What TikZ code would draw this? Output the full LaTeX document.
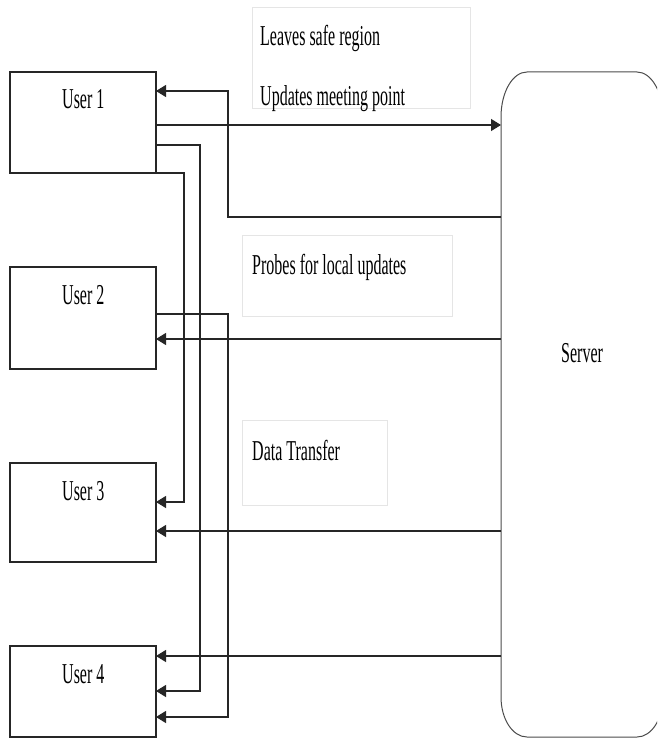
\documentclass[tikz,border=0pt]{standalone}
\usepackage{fontspec}
\setmainfont{Liberation Serif}
\usetikzlibrary{arrows.meta}
\newcommand{\sttxt}[1]{\scalebox{1}[1.8]{\fontsize{16}{16}\selectfont #1}}
\tikzset{
  userbox/.style={draw=black!85, line width=1.2pt, minimum width=146pt, inner sep=0pt, outer sep=0pt, anchor=north west},
  txtbox/.style={draw=black!10, line width=0.6pt, inner sep=0pt, outer sep=0pt, anchor=north west},
  lbl/.style={anchor=base west, inner sep=0pt, text=black},
  conn/.style={draw=black!85, line width=1.2pt},
  arr/.style={conn, -{Triangle[length=10pt,width=12pt]}},
}
\begin{document}
\begin{tikzpicture}[x=1pt,y=-1pt]
\useasboundingbox (0,0) rectangle (657,738);
\clip (0,0) rectangle (657,738);
\fill[white] (0,0) rectangle (657,738);
% text boxes
\node[txtbox, minimum width=218pt, minimum height=101pt] (tb1) at (252,7) {};
\node[txtbox, minimum width=210pt, minimum height=81pt] (tb2) at (242,235) {};
\node[txtbox, minimum width=145pt, minimum height=85pt] (tb3) at (242,420) {};
\node[lbl] (t1) at (260,46) {\sttxt{Leaves safe region}};
\node[lbl] (t2) at (260,106) {\sttxt{Updates meeting point}};
\node[lbl] (t3) at (252,274) {\sttxt{Probes for local updates}};
\node[lbl] (t4) at (252,460) {\sttxt{Data Transfer}};
% users
\node[userbox, minimum height=101pt] (u1) at (10,72) {};
\node[userbox, minimum height=102pt] (u2) at (10,267) {};
\node[userbox, minimum height=99pt] (u3) at (10,463) {};
\node[userbox, minimum height=91pt] (u4) at (10,646) {};
\node[lbl] (l1) at (62,109) {\sttxt{User 1}};
\node[lbl] (l2) at (62,304) {\sttxt{User 2}};
\node[lbl] (l3) at (62,500) {\sttxt{User 3}};
\node[lbl] (l4) at (62,683) {\sttxt{User 4}};
% server
\node[minimum width=162pt, minimum height=665pt, inner sep=0pt, outer sep=0pt, anchor=north west] (srv) at (501,72) {};
\draw[draw=black!70, line width=1pt]
  ([yshift=-45pt]srv.north west) arc[start angle=180, end angle=90, x radius=26pt, y radius=45pt]
  -- ([xshift=-26pt]srv.north east) arc[start angle=90, end angle=0, x radius=26pt, y radius=45pt]
  -- ([yshift=40pt]srv.south east) arc[start angle=0, end angle=-90, x radius=26pt, y radius=40pt]
  -- ([xshift=26pt]srv.south west) arc[start angle=270, end angle=180, x radius=26pt, y radius=40pt]
  -- cycle;
\node[lbl] (ls) at (561,362) {\sttxt{Server}};
% connectors
\draw[arr] (srv.west |- 0,217) -- (228,217) -- (228,91) -- (u1.east |- 0,91);
\draw[arr] (u1.east |- 0,125) -- (srv.west |- 0,125);
\draw[arr] (u1.east |- 0,145) -- (200,145) -- (200,691) -- (u4.east |- 0,691);
\draw[arr] (u1.south east) -- (184,173) -- (184,502) -- (u3.east |- 0,502);
\draw[arr] (u2.east |- 0,314) -- (228,314) -- (228,717) -- (u4.east |- 0,717);
\draw[arr] (srv.west |- 0,339) -- (u2.east |- 0,339);
\draw[arr] (srv.west |- 0,531) -- (u3.east |- 0,531);
\draw[arr] (srv.west |- 0,656) -- (u4.east |- 0,656);
\end{tikzpicture}
\end{document}
